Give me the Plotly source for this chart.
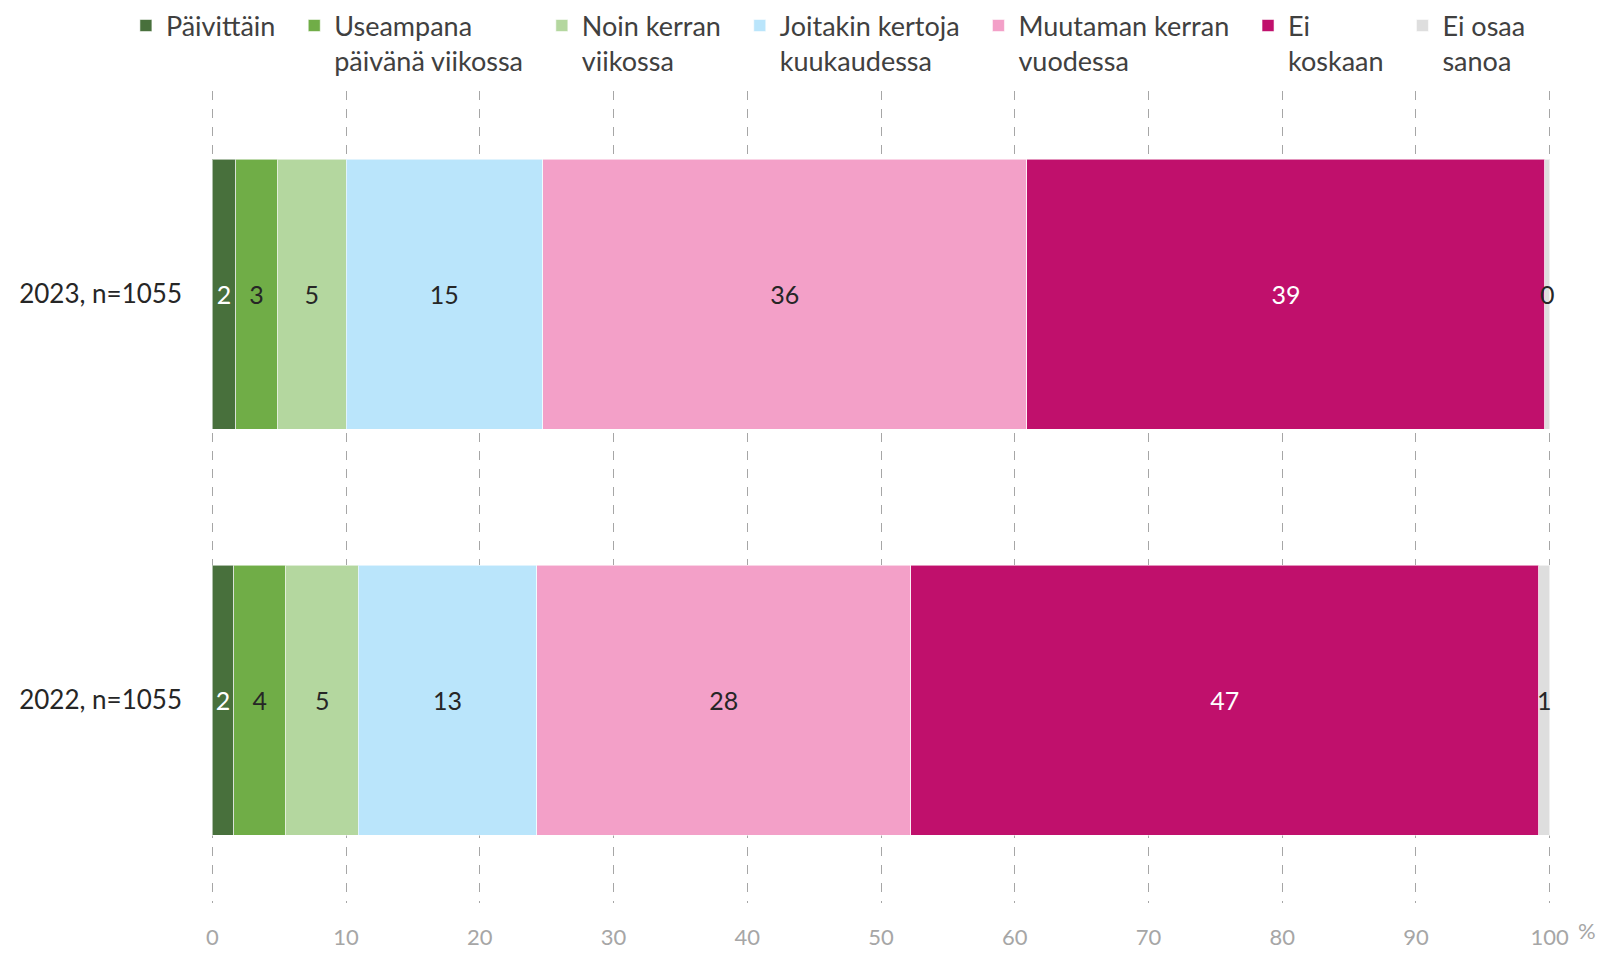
import plotly.graph_objects as go

categories = ["2023, n=1055", "2022, n=1055"]
NB = "\u00a0\u00a0"
series_names = [
    "Päivittäin" + NB,
    "Useampana<br>päivänä viikossa" + NB,
    "Noin kerran" + NB + "<br>viikossa",
    "Joitakin kertoja" + NB + "<br>kuukaudessa",
    "Muutaman kerran" + NB + "<br>vuodessa",
    "Ei<br>koskaan" + NB,
    "Ei osaa<br>sanoa",
]
# values per series: [2023, 2022]
paivittain = [1.74, 1.59]
useampana = [3.14, 3.91]
noin_kerran = [5.12, 5.42]
joitakin = [14.7, 13.34]
muutaman = [36.2, 27.96]
ei_koskaan = [38.75, 46.98]
ei_osaa = [0.35, 0.80]
x_ticks = [0, 10, 20, 30, 40, 50, 60, 70, 80, 90, 100]

series_values = [paivittain, useampana, noin_kerran, joitakin, muutaman, ei_koskaan, ei_osaa]
colors = ["#48703c", "#70ad47", "#b4d79f", "#bae5fb", "#f3a0c8", "#c0106c", "#dedede"]
text_colors = ["#ffffff", "#262626", "#262626", "#262626", "#262626", "#ffffff", "#262626"]

FONT = "Lato"

fig = go.Figure()
for name, vals, col, tcol in zip(series_names, series_values, colors, text_colors):
    fig.add_trace(go.Bar(
        name=name,
        y=categories,
        x=vals,
        orientation="h",
        marker=dict(color=col, line=dict(color="rgba(255,255,255,0.55)", width=1)),
        text=vals,
        texttemplate="%{x:.0f}",
        textposition="inside",
        insidetextanchor="middle",
        textangle=0,
        textfont=dict(color=tcol, size=25, family=FONT),
        cliponaxis=False,
        hoverinfo="skip",
    ))

fig.update_layout(
    width=1598,
    height=942,
    barmode="stack",
    bargap=0.335,
    plot_bgcolor="white",
    paper_bgcolor="white",
    font=dict(family=FONT, color="#404040"),
    margin=dict(l=203, r=55, t=83, b=47, autoexpand=False),
    uniformtext=dict(minsize=25, mode="show"),
    legend=dict(
        orientation="h",
        x=-0.0635,
        xanchor="left",
        y=1.1103,
        yanchor="top",
        traceorder="normal",
        valign="top",
        font=dict(size=27, family=FONT, color="#404040"),
        itemclick=False,
        tracegroupgap=0,
    ),
    showlegend=True,
)

fig.update_xaxes(
    range=[-0.1, 100.1],
    tickvals=x_ticks,
    ticktext=[str(v) for v in x_ticks],
    showgrid=True,
    gridcolor="#a6a6a6",
    griddash="dash",
    gridwidth=1,
    zeroline=False,
    showline=False,
    tickfont=dict(size=22, color="#a6a6a6", family=FONT),
    ticks="",
    ticklabelstandoff=19,
)
fig.update_yaxes(
    categoryorder="array",
    categoryarray=categories[::-1],
    showgrid=False,
    zeroline=False,
    showline=False,
    ticks="",
    tickfont=dict(size=26, color="#262626", family=FONT),
    ticklabelstandoff=28,
)

fig.add_annotation(
    text="%", xref="paper", yref="paper", x=1.0, y=0, xanchor="left", yanchor="top",
    xshift=25, yshift=-12, showarrow=False,
    font=dict(size=22, color="#a6a6a6", family=FONT),
)

fig.write_html("out.html")
